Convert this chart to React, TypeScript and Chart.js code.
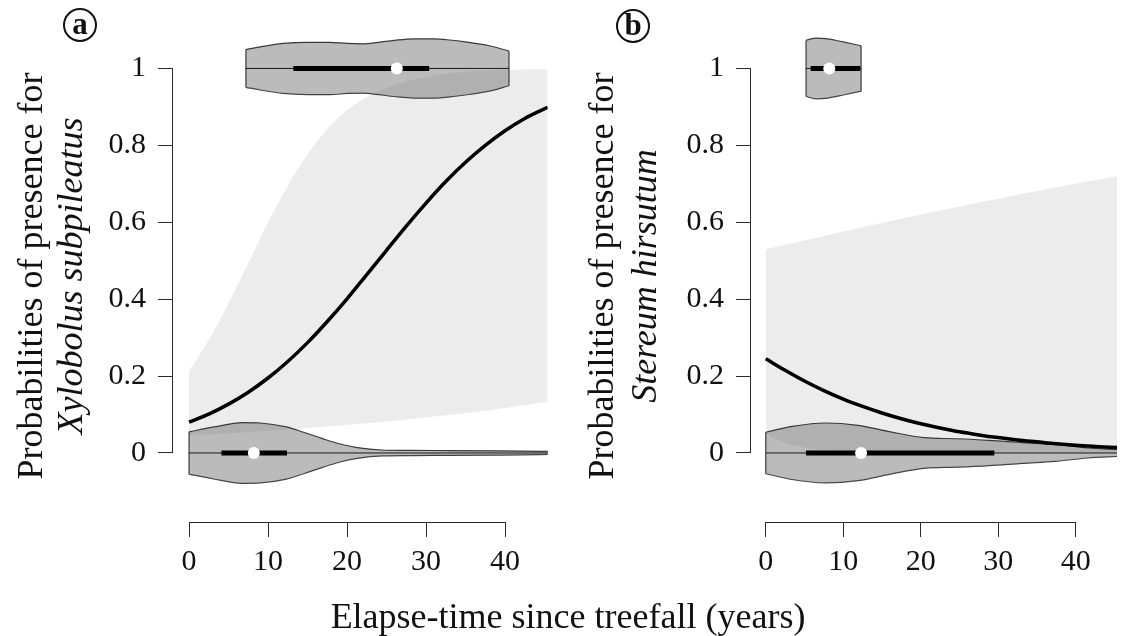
import React, { useEffect, useRef } from 'react';
import { Chart, registerables } from 'chart.js';

Chart.register(...registerables);

const SERIF = '"Liberation Serif", "Times New Roman", Times, serif';

// ---------- shared axes / text ----------
const xTicks = [0, 10, 20, 30, 40];
const xTickLabels = ['0', '10', '20', '30', '40'];
const yTicks = [0, 0.2, 0.4, 0.6, 0.8, 1];
const yTickLabels = ['0', '0.2', '0.4', '0.6', '0.8', '1'];
const xTitle = 'Elapse-time since treefall (years)';
const yTitleLine = 'Probabilities of presence for';
const speciesA = 'Xylobolus subpileatus';
const speciesB = 'Stereum hirsutum';

// ---------- panel a : Xylobolus subpileatus ----------
const aCurveX = [0, 2.5, 5, 7.5, 10, 12.5, 15, 17.5, 20, 22.5, 25, 27.5, 30, 32.5, 35, 37.5, 40, 42.5, 45.4];
const aCurveY = [0.080, 0.101, 0.127, 0.158, 0.195, 0.238, 0.287, 0.342, 0.401, 0.464, 0.527, 0.590, 0.650, 0.706, 0.756, 0.800, 0.838, 0.870, 0.899];
const aBandX = [0, 2.5, 5, 7.5, 10, 12.5, 15, 17.5, 20, 22.5, 25, 27.5, 30, 32.5, 35, 37.5, 40, 42.5, 45.4];
const aBandUpper = [0.214, 0.294, 0.389, 0.494, 0.599, 0.695, 0.777, 0.842, 0.891, 0.926, 0.950, 0.967, 0.978, 0.986, 0.991, 0.994, 0.996, 0.9975, 0.9985];
const aBandLower = [0.045, 0.048, 0.051, 0.054, 0.057, 0.061, 0.065, 0.069, 0.073, 0.077, 0.082, 0.087, 0.093, 0.098, 0.104, 0.110, 0.117, 0.124, 0.133];
// violin at presence = 1
const aTopX = [7.2, 9, 11.9, 15, 17.8, 20, 22, 24, 26, 28.5, 31, 33, 35, 38, 40.5];
const aTopHalf = [0.049, 0.056, 0.065, 0.068, 0.068, 0.065, 0.064, 0.068, 0.073, 0.077, 0.077, 0.074, 0.069, 0.059, 0.045];
const aTopBox = [13.2, 30.4];
const aTopMedian = 26.3;
// violin at presence = 0
const aBotX = [0, 3, 6.8, 9, 12.3, 14.5, 16.8, 19, 21.3, 24.4, 28, 33, 38, 42, 45.4];
const aBotHalf = [0.055, 0.067, 0.079, 0.078, 0.068, 0.054, 0.038, 0.024, 0.014, 0.0077, 0.0067, 0.0062, 0.0056, 0.005, 0.004];
const aBotBox = [4.1, 12.4];
const aBotMedian = 8.2;

// ---------- panel b : Stereum hirsutum ----------
const bCurveX = [0, 2.5, 5, 7.5, 10, 12.5, 15, 17.5, 20, 22.5, 25, 27.5, 30, 32.5, 35, 37.5, 40, 42.5, 45.4];
const bCurveY = [0.245, 0.215, 0.187, 0.162, 0.140, 0.121, 0.104, 0.089, 0.076, 0.065, 0.055, 0.047, 0.040, 0.034, 0.029, 0.024, 0.020, 0.017, 0.014];
const bBandX = [0, 2, 4, 6, 10, 15, 20, 25, 30, 35, 40, 45.4];
const bBandUpper = [0.53, 0.539, 0.548, 0.557, 0.576, 0.598, 0.62, 0.641, 0.661, 0.681, 0.70, 0.72];
const bBandLower = [0.05, 0.03, 0.018, 0.011, 0.005, 0.003, 0.002, 0.0015, 0.001, 0.0008, 0.0006, 0.0005];
const bTopX = [5.2, 6.5, 8, 10, 12.3];
const bTopHalf = [0.073, 0.079, 0.077, 0.069, 0.059];
const bTopBox = [5.8, 12.2];
const bTopMedian = 8.2;
const bBotX = [0, 3.4, 7.7, 11.9, 16.1, 20.4, 24.6, 28.8, 33.1, 37.3, 41.5, 45.4];
const bBotHalf = [0.054, 0.069, 0.078, 0.072, 0.055, 0.040, 0.037, 0.033, 0.027, 0.022, 0.013, 0.009];
const bBotBox = [5.2, 29.5];
const bBotMedian = 12.3;

const VIOLIN_FILL = 'rgba(105,105,105,0.45)';
const VIOLIN_EDGE = '#3a3a3a';
const BAND_FILL = '#ececec';
const AXIS_COLOR = '#2a2a2a';

type Violin = { xs: number[]; half: number[]; center: number; box: number[]; median: number };

type PanelSpec = {
  xMin: number; xMax: number; yAxisWidth: number; padRight: number;
  curveX: number[]; curveY: number[];
  bandX: number[]; bandUp: number[]; bandLo: number[];
  violins: Violin[];
  letter: string; letterX: number; letterY: number;
  title1X: number; title2X: number; titleY: number; species: string;
};

const panelA: PanelSpec = {
  xMin: -2.03, xMax: 45.4, yAxisWidth: 173, padRight: 13.3,
  curveX: aCurveX, curveY: aCurveY,
  bandX: aBandX, bandUp: aBandUpper, bandLo: aBandLower,
  violins: [
    { xs: aTopX, half: aTopHalf, center: 1, box: aTopBox, median: aTopMedian },
    { xs: aBotX, half: aBotHalf, center: 0, box: aBotBox, median: aBotMedian },
  ],
  letter: 'a', letterX: 80, letterY: 25,
  title1X: 42, title2X: 82, titleY: 276, species: speciesA,
};

const panelB: PanelSpec = {
  xMin: -1.905, xMax: 45.33, yAxisWidth: 190, padRight: 0,
  curveX: bCurveX, curveY: bCurveY,
  bandX: bBandX, bandUp: bBandUpper, bandLo: bBandLower,
  violins: [
    { xs: bTopX, half: bTopHalf, center: 1, box: bTopBox, median: bTopMedian },
    { xs: bBotX, half: bBotHalf, center: 0, box: bBotBox, median: bBotMedian },
  ],
  letter: 'b', letterX: 72, letterY: 26,
  title1X: 52, title2X: 95, titleY: 276, species: speciesB,
};

function buildDatasets(p: PanelSpec) {
  const ds: any[] = [];
  ds.push({
    data: p.curveX.map((x, i) => ({ x, y: p.curveY[i] })),
    borderColor: '#000', borderWidth: 3.5, cubicInterpolationMode: 'monotone',
    pointRadius: 0, fill: false, order: 0,
  });
  for (const v of p.violins) {
    const c = v.center;
    const n = v.xs.length - 1;
    ds.push({
      data: [{ x: v.median, y: c }], showLine: false, pointRadius: 6,
      pointBackgroundColor: '#ffffff', pointBorderColor: '#ffffff', pointBorderWidth: 0, order: 1,
    });
    ds.push({
      data: [{ x: v.box[0], y: c }, { x: v.box[1], y: c }],
      borderColor: '#000', borderWidth: 5, borderCapStyle: 'butt', pointRadius: 0, fill: false, order: 2,
    });
    ds.push({
      data: [{ x: v.xs[0], y: c }, { x: v.xs[n], y: c }],
      borderColor: '#1a1a1a', borderWidth: 1, pointRadius: 0, fill: false, order: 3,
    });
    ds.push({
      data: [
        { x: v.xs[0], y: c - v.half[0] }, { x: v.xs[0], y: c + v.half[0] }, { x: v.xs[0], y: null },
        { x: v.xs[n], y: c - v.half[n] }, { x: v.xs[n], y: c + v.half[n] },
      ],
      borderColor: VIOLIN_EDGE, borderWidth: 1.2, pointRadius: 0, spanGaps: false, fill: false, tension: 0, order: 4,
    });
    ds.push({
      data: v.xs.map((x, i) => ({ x, y: c + v.half[i] })),
      borderColor: VIOLIN_EDGE, borderWidth: 1.2, backgroundColor: VIOLIN_FILL,
      cubicInterpolationMode: 'monotone', pointRadius: 0, fill: '+1', order: 5,
    });
    ds.push({
      data: v.xs.map((x, i) => ({ x, y: c - v.half[i] })),
      borderColor: VIOLIN_EDGE, borderWidth: 1.2,
      cubicInterpolationMode: 'monotone', pointRadius: 0, fill: false, order: 5,
    });
  }
  ds.push({
    data: p.bandX.map((x, i) => ({ x, y: p.bandUp[i] })),
    borderColor: 'rgba(0,0,0,0)', borderWidth: 1, backgroundColor: BAND_FILL,
    cubicInterpolationMode: 'monotone', pointRadius: 0, fill: '+1', order: 9,
  });
  ds.push({
    data: p.bandX.map((x, i) => ({ x, y: p.bandLo[i] })),
    borderColor: 'rgba(0,0,0,0)', borderWidth: 1,
    cubicInterpolationMode: 'monotone', pointRadius: 0, fill: false, order: 9,
  });
  return ds;
}

function makeDecor(p: PanelSpec) {
  return {
    id: 'decor',
    afterDraw(chart: any) {
      const ctx = chart.ctx as CanvasRenderingContext2D;
      const xs = chart.scales.x;
      const ys = chart.scales.y;
      const ca = chart.chartArea;
      ctx.save();
      // detached axis lines (R style)
      ctx.strokeStyle = AXIS_COLOR;
      ctx.lineWidth = 1;
      const ax = Math.round(ca.left) - 0.5;
      const ay = Math.round(ca.bottom) + 0.5;
      ctx.beginPath();
      ctx.moveTo(ax, ys.getPixelForValue(yTicks[0]));
      ctx.lineTo(ax, ys.getPixelForValue(yTicks[yTicks.length - 1]));
      ctx.moveTo(xs.getPixelForValue(xTicks[0]), ay);
      ctx.lineTo(xs.getPixelForValue(xTicks[xTicks.length - 1]), ay);
      ctx.stroke();

      // y titles
      ctx.fillStyle = '#111';
      ctx.textAlign = 'center';
      ctx.textBaseline = 'alphabetic';
      ctx.save();
      ctx.translate(p.title1X, p.titleY);
      ctx.rotate(-Math.PI / 2);
      ctx.font = `36px ${SERIF}`;
      ctx.fillText(yTitleLine, 0, 0);
      ctx.restore();
      ctx.save();
      ctx.translate(p.title2X, p.titleY);
      ctx.rotate(-Math.PI / 2);
      ctx.font = `italic 36px ${SERIF}`;
      ctx.fillText(p.species, 0, 0);
      ctx.restore();

      // circled panel letter
      ctx.beginPath();
      ctx.lineWidth = 2;
      ctx.strokeStyle = '#111';
      ctx.arc(p.letterX, p.letterY, 16, 0, Math.PI * 2);
      ctx.stroke();
      ctx.font = `bold 31px ${SERIF}`;
      ctx.textBaseline = 'middle';
      ctx.fillText(p.letter, p.letterX, p.letterY + 1);
      ctx.restore();
    },
  };
}

function buildConfig(p: PanelSpec): any {
  return {
    type: 'line',
    data: { datasets: buildDatasets(p) },
    options: {
      animation: false,
      responsive: false,
      events: [],
      layout: { padding: { top: 23, right: p.padRight, left: 0, bottom: 0 } },
      plugins: { legend: { display: false }, tooltip: { enabled: false } },
      scales: {
        x: {
          type: 'linear', position: 'bottom', min: p.xMin, max: p.xMax,
          border: { display: false },
          grid: { drawOnChartArea: false, drawTicks: true, tickLength: 15, tickColor: AXIS_COLOR, tickWidth: 1, color: AXIS_COLOR },
          ticks: {
            font: { family: SERIF, size: 30 }, color: '#111', padding: 7, maxRotation: 0, autoSkip: false,
            callback: (_v: any, i: number) => xTickLabels[i],
          },
          afterBuildTicks: (s: any) => { s.ticks = xTicks.map((value) => ({ value })); },
          afterFit: (s: any) => { s.height = 114; },
        },
        y: {
          type: 'linear', position: 'left', min: -0.1795, max: 1.1,
          border: { display: false },
          grid: { drawOnChartArea: false, drawTicks: true, tickLength: 15, tickColor: AXIS_COLOR, tickWidth: 1, color: AXIS_COLOR },
          ticks: {
            font: { family: SERIF, size: 30 }, color: '#111', padding: 12, autoSkip: false,
            callback: (_v: any, i: number) => yTickLabels[i],
          },
          afterBuildTicks: (s: any) => { s.ticks = yTicks.map((value) => ({ value })); },
          afterFit: (s: any) => { s.width = p.yAxisWidth; },
        },
      },
    },
    plugins: [makeDecor(p)],
  };
}

function Panel({ spec, left, width }: { spec: PanelSpec; left: number; width: number }) {
  const ref = useRef<HTMLCanvasElement>(null);
  useEffect(() => {
    const chart = new Chart(ref.current as HTMLCanvasElement, buildConfig(spec));
    return () => chart.destroy();
  }, [spec]);
  return (
    <canvas
      ref={ref}
      width={width}
      height={636}
      style={{ position: 'absolute', left, top: 0, width, height: 636 }}
    />
  );
}

export default function App() {
  return (
    <div style={{ position: 'absolute', left: 0, top: 0, width: 1123, height: 636, background: '#fff', overflow: 'hidden' }}>
      <Panel spec={panelA} left={0} width={561} />
      <Panel spec={panelB} left={561} width={562} />
      <div
        style={{
          position: 'absolute', left: 0, width: 1136, top: 598, textAlign: 'center',
          fontFamily: SERIF, fontSize: 36, lineHeight: '36px', color: '#111', whiteSpace: 'nowrap',
        }}
      >
        {xTitle}
      </div>
    </div>
  );
}
